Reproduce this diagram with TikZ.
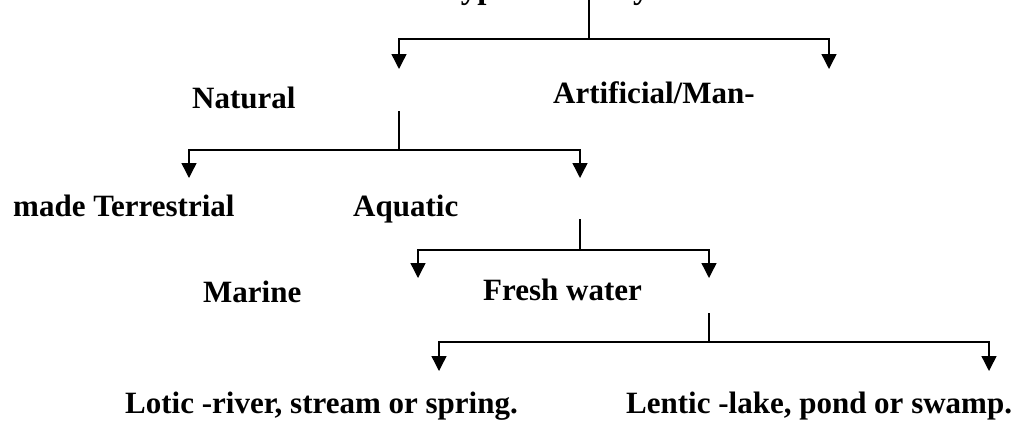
\documentclass[tikz,border=0pt]{standalone}
\usepackage{fontspec}
\setmainfont{Liberation Serif}
\usetikzlibrary{arrows.meta}
\tikzset{
  lbl/.style={anchor=base west, inner sep=0pt, font=\fontsize{31}{36}\selectfont\bfseries},
  ln/.style={line width=1.4pt},
  arr/.style={ln, -{Triangle[width=15pt,length=15pt]}}
}
\begin{document}
\begin{tikzpicture}[x=1pt,y=-1pt]
\clip (0,0) rectangle (1032,421);
% labels
\node[lbl,font=\fontsize{33}{38}\selectfont\bfseries] (title) at (441,-2) {Types of Ecosystem};
\node[lbl] (nat) at (192,108) {Natural};
\node[lbl] (art) at (553,103) {Artificial/Man-};
\node[lbl] (ter) at (13,216) {made Terrestrial};
\node[lbl] (aqu) at (353,216) {Aquatic};
\node[lbl] (mar) at (203,302) {Marine};
\node[lbl] (fre) at (483,300) {Fresh water};
\node[lbl] (lot) at (125,413) {Lotic -river, stream or spring.};
\node[lbl] (len) at (626,413) {Lentic -lake, pond or swamp.};
% branches: n / x / top / junction / left / right / tips
\foreach \n/\x/\ya/\yb/\xl/\xr/\yt in {1/589/0/39/399/829/69, 2/399/111/150/189/580/178,
    3/580/219/250/418/709/278, 4/709/313/342/439/989/371}{
  \coordinate (t\n) at (\x,\ya);
  \coordinate (j\n) at (\x,\yb);
  \coordinate (l\n) at (\xl,\yt);
  \coordinate (r\n) at (\xr,\yt);
  \draw[ln] (t\n) -- (j\n);
  \draw[arr] (j\n) -| (l\n);
  \draw[arr] (j\n) -| (r\n);
}
\end{tikzpicture}
\end{document}
